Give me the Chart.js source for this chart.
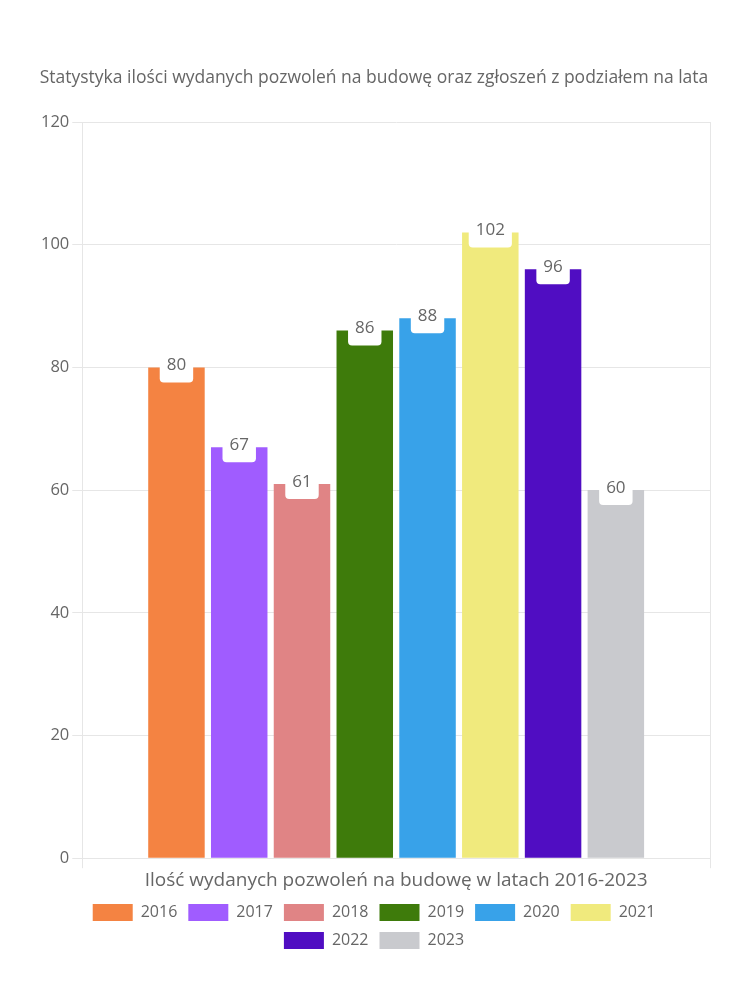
<!DOCTYPE html>
<html>
<head>
<meta charset="utf-8">
<script src="https://cdn.jsdelivr.net/npm/chart.js@4.4.1/dist/chart.umd.min.js"></script>
<style>
html,body{margin:0;padding:0;background:#fff;}
#wrap{width:750px;height:1000px;position:relative;}
</style>
</head>
<body>
<div id="wrap"><canvas id="c" width="750" height="1000"></canvas></div>
<script>
const categories = ['Ilość wydanych pozwoleń na budowę w latach 2016-2023'];
const years = ['2016','2017','2018','2019','2020','2021','2022','2023'];
const values = [80, 67, 61, 86, 88, 102, 96, 60];
const colors = ['#F48342','#A05CFF','#E08485','#3E7B0B','#38A2E9','#F0EA7D','#500DC2','#C9CACE'];
const yTicks = [0, 20, 40, 60, 80, 100, 120];
const titleText = 'Statystyka ilości wydanych pozwoleń na budowę oraz zgłoszeń z podziałem na lata';

const FONT = '"Open Sans", Lato, sans-serif';
Chart.defaults.font.family = FONT;
Chart.defaults.color = '#666';

const labelPlugin = {
  id: 'valLabels',
  afterDatasetsDraw(chart) {
    const ctx = chart.ctx;
    ctx.save();
    ctx.font = '17px ' + FONT;
    ctx.textAlign = 'center';
    ctx.textBaseline = 'middle';
    chart.data.datasets.forEach((ds, i) => {
      const meta = chart.getDatasetMeta(i);
      meta.data.forEach((bar, j) => {
        const txt = String(ds.data[j]);
        const w = ctx.measureText(txt).width + 14;
        const h = 30;
        const x = bar.x - w / 2, y = bar.y - h / 2;
        ctx.fillStyle = '#fff';
        ctx.beginPath();
        ctx.roundRect(x, y, w, h, 4);
        ctx.fill();
        ctx.fillStyle = '#666';
        ctx.fillText(txt, bar.x, bar.y - 2);
      });
    });
    ctx.restore();
  }
};

new Chart(document.getElementById('c'), {
  type: 'bar',
  data: {
    labels: categories,
    datasets: years.map((y, i) => ({
      label: y,
      data: [values[i]],
      backgroundColor: colors[i],
      borderWidth: 0
    }))
  },
  options: {
    responsive: false,
    animation: false,
    layout: { padding: { top: 68, left: 38, right: 40, bottom: 41 } },
    plugins: {
      title: {
        display: true,
        text: titleText,
        color: '#666',
        font: { size: 17.5, weight: 'normal', family: FONT },
        padding: { top: 0, bottom: 33 }
      },
      legend: {
        position: 'bottom',
        labels: {
          color: '#666',
          font: { size: 16, family: FONT },
          boxWidth: 40,
          boxHeight: 17,
          padding: 11
        }
      },
      tooltip: { enabled: false }
    },
    scales: {
      x: {
        grid: { color: '#e6e6e6', offset: true, tickLength: 10 },
        border: { color: '#e6e6e6' },
        ticks: { color: '#666', font: { size: 19, family: FONT }, padding: 1 }
      },
      y: {
        min: 0, max: 120,
        afterBuildTicks(axis) { axis.ticks = yTicks.map(v => ({ value: v })); },
        grid: { color: '#e6e6e6', tickLength: 10 },
        border: { color: '#e6e6e6' },
        ticks: { color: '#666', font: { size: 16.5, family: FONT }, padding: 3 }
      }
    }
  },
  plugins: [labelPlugin]
});
</script>
</body>
</html>
